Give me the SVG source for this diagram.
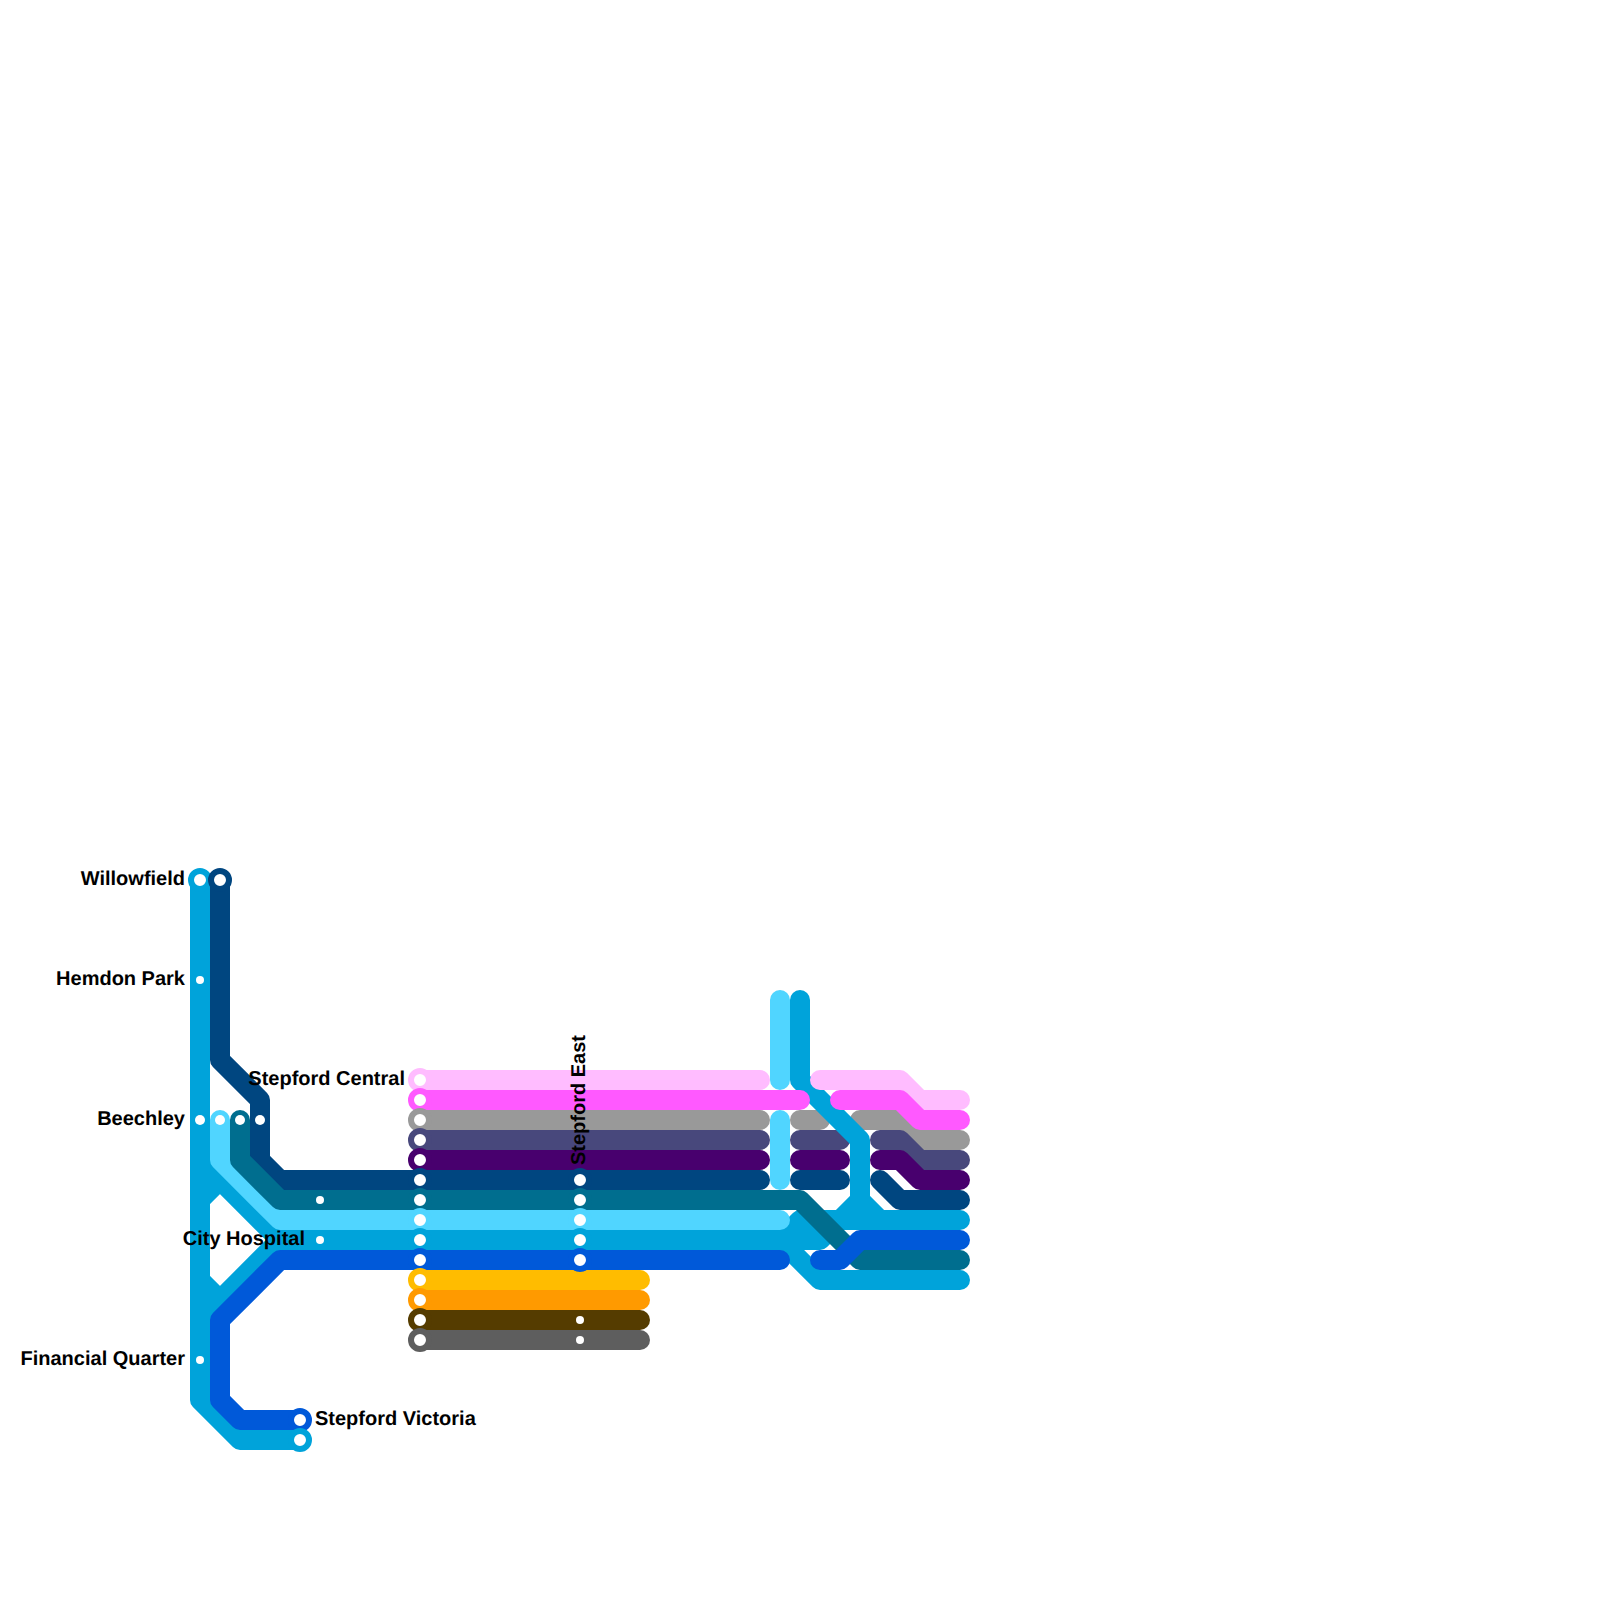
<svg xmlns="http://www.w3.org/2000/svg" width="1600" height="1600" viewBox="0 0 1600 1600">
<style>
.l{fill:none;stroke-width:20;stroke-linecap:round;stroke-linejoin:round}
.sky{stroke:#00a3da}.light{stroke:#50d5ff}.teal{stroke:#006e8f}.navy{stroke:#004680}.royal{stroke:#0059d9}
.pink{stroke:#ffbcff}.mag{stroke:#ff59ff}.gray{stroke:#999999}.ind{stroke:#48487c}.pur{stroke:#48006e}
.yel{stroke:#ffbc00}.ora{stroke:#ff9a00}.bro{stroke:#553c00}.dgr{stroke:#5e5e5e}
.r{fill:#fff;stroke-width:6}
.w{fill:#fff}
text{font-family:"Liberation Sans",Arial,sans-serif;font-weight:700;font-size:20px;fill:#000;text-rendering:geometricPrecision}
.e{text-anchor:end}
</style>
<g id="connectors">
<path class="l yel" d="M420 1280H640"/>
<path class="l ora" d="M420 1300H640"/>
<path class="l bro" d="M420 1320H640"/>
<path class="l dgr" d="M420 1340H640"/>
<path class="l gray" d="M420 1120H760M800 1120H820M860 1120H900L920 1140H960"/>
<path class="l ind" d="M420 1140H760M800 1140H840M880 1140H900L920 1160H960"/>
<path class="l pur" d="M420 1160H760M800 1160H840M880 1160H900L920 1180H960"/>
<path class="l navy" d="M220 880V1060L260 1100V1160L280 1180H760M800 1180H840M880 1180L900 1200H960"/>
<path class="l sky" d="M200 880V1400L240 1440H300M200 1200L220 1180M200 1160L280 1240H780L820 1280H960M200 1320L280 1240M200 1280L220 1300M780 1240L800 1220H960M800 1000V1080L860 1140V1200L880 1220M860 1200L820 1240H780"/>
<path class="l light" d="M220 1120V1160L280 1220H780M780 1000V1080M780 1120V1180"/>
<path class="l teal" d="M240 1120V1160L280 1200H800L860 1260H960"/>
<path class="l royal" d="M300 1420H240L220 1400V1320L280 1260H780M820 1260H840L860 1240H960"/>
<path class="l pink" d="M420 1080H760M820 1080H900L920 1100H960"/>
<path class="l mag" d="M420 1100H800M840 1100H900L920 1120H960"/>
</g>
<g id="n-willowfield"><circle class="r sky" cx="200" cy="880" r="9"/><text class="e" x="185" y="885">Willowfield</text></g>
<g id="n-willowfield-2"><circle class="r navy" cx="220" cy="880" r="9"/></g>
<g id="n-hemdon"><circle class="w" cx="200" cy="980" r="4"/><text class="e" x="185" y="985">Hemdon Park</text></g>
<g id="n-beechley"><circle class="w" cx="200" cy="1120" r="5"/><circle class="w" cx="220" cy="1120" r="5"/><circle class="w" cx="240" cy="1120" r="5"/><circle class="w" cx="260" cy="1120" r="5"/><text class="e" x="185" y="1125">Beechley</text></g>
<g id="n-financial"><circle class="w" cx="200" cy="1360" r="4"/><text class="e" x="185" y="1365">Financial Quarter</text></g>
<g id="n-victoria"><circle class="r royal" cx="300" cy="1420" r="9"/><circle class="r sky" cx="300" cy="1440" r="9"/><text x="315" y="1425">Stepford Victoria</text></g>
<g id="n-hospital"><circle class="w" cx="320" cy="1200" r="4"/><circle class="w" cx="320" cy="1240" r="4"/><text class="e" x="305" y="1245">City Hospital</text></g>
<g id="n-central">
<circle class="r pink" cx="420" cy="1080" r="9"/><circle class="r mag" cx="420" cy="1100" r="9"/><circle class="r gray" cx="420" cy="1120" r="9"/><circle class="r ind" cx="420" cy="1140" r="9"/><circle class="r pur" cx="420" cy="1160" r="9"/><circle class="r navy" cx="420" cy="1180" r="9"/><circle class="r teal" cx="420" cy="1200" r="9"/><circle class="r light" cx="420" cy="1220" r="9"/><circle class="r sky" cx="420" cy="1240" r="9"/><circle class="r royal" cx="420" cy="1260" r="9"/><circle class="r yel" cx="420" cy="1280" r="9"/><circle class="r ora" cx="420" cy="1300" r="9"/><circle class="r bro" cx="420" cy="1320" r="9"/><circle class="r dgr" cx="420" cy="1340" r="9"/>
<text class="e" x="405" y="1085">Stepford Central</text></g>
<g id="n-east">
<circle class="r navy" cx="580" cy="1180" r="9"/><circle class="r teal" cx="580" cy="1200" r="9"/><circle class="r light" cx="580" cy="1220" r="9"/><circle class="r sky" cx="580" cy="1240" r="9"/><circle class="r royal" cx="580" cy="1260" r="9"/><circle class="w" cx="580" cy="1320" r="4"/><circle class="w" cx="580" cy="1340" r="4"/>
<text transform="rotate(-90 585 1165)" x="585" y="1165">Stepford East</text></g>
</svg>
